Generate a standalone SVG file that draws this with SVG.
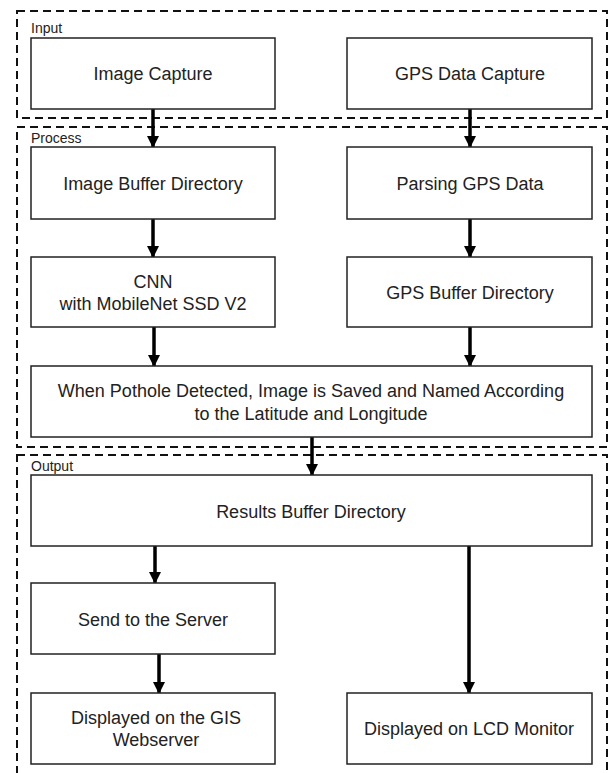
<svg xmlns="http://www.w3.org/2000/svg" width="610" height="773" viewBox="0 0 610 773">
<style>
.grp{fill:none;stroke:#111;stroke-width:2;stroke-dasharray:8,5}
.box{fill:#fff;stroke:#222;stroke-width:1.5}
.t{font-family:"Liberation Sans",Arial,sans-serif;font-size:18px;fill:#222;text-anchor:middle}
.lbl{font-family:"Liberation Sans",Arial,sans-serif;font-size:14px;fill:#222}
.arr{stroke:#000;stroke-width:3.5;fill:none;marker-end:url(#ah)}
</style>
<defs>
<marker id="ah" markerUnits="userSpaceOnUse" markerWidth="12" markerHeight="12" refX="11" refY="6" orient="auto">
<path d="M0,0 L12,6 L0,12 z" fill="#000"/>
</marker>
</defs>
<rect width="610" height="773" fill="#fff"/>
<g id="groups">
<rect class="grp" x="17" y="11" width="590" height="107"/>
<text class="lbl" x="31" y="33">Input</text>
<rect class="grp" x="17" y="127" width="590" height="320"/>
<text class="lbl" x="31" y="143">Process</text>
<rect class="grp" x="17" y="455" width="590" height="330"/>
<text class="lbl" x="31" y="471">Output</text>
</g>
<g id="connectors">
<line class="arr" x1="153" y1="109" x2="153" y2="147"/>
<line class="arr" x1="470" y1="109" x2="470" y2="147"/>
<line class="arr" x1="153" y1="219" x2="153" y2="257"/>
<line class="arr" x1="470" y1="219" x2="470" y2="257"/>
<line class="arr" x1="154" y1="327" x2="154" y2="366"/>
<line class="arr" x1="470" y1="327" x2="470" y2="366"/>
<line class="arr" x1="312" y1="437" x2="312" y2="475"/>
<line class="arr" x1="155" y1="546" x2="155" y2="583"/>
<line class="arr" x1="159" y1="654" x2="159" y2="693"/>
<line class="arr" x1="469" y1="546" x2="469" y2="693"/>
</g>
<g id="image-capture"><rect class="box" x="31" y="38" width="244" height="71"/><text class="t" x="153" y="80">Image Capture</text></g>
<g id="gps-data-capture"><rect class="box" x="347" y="38" width="245" height="71"/><text class="t" x="470" y="80">GPS Data Capture</text></g>
<g id="image-buffer"><rect class="box" x="31" y="147" width="244" height="72"/><text class="t" x="153" y="190">Image Buffer Directory</text></g>
<g id="parsing-gps"><rect class="box" x="347" y="147" width="245" height="72"/><text class="t" x="470" y="190">Parsing GPS Data</text></g>
<g id="cnn"><rect class="box" x="31" y="257" width="244" height="70"/><text class="t" x="153" y="288">CNN</text><text class="t" x="153" y="310">with MobileNet SSD V2</text></g>
<g id="gps-buffer"><rect class="box" x="347" y="257" width="245" height="70"/><text class="t" x="470" y="299">GPS Buffer Directory</text></g>
<g id="pothole-detected"><rect class="box" x="31" y="366" width="561" height="71"/><text class="t" x="311" y="397">When Pothole Detected, Image is Saved and Named According</text><text class="t" x="311" y="420">to the Latitude and Longitude</text></g>
<g id="results-buffer"><rect class="box" x="31" y="475" width="561" height="71"/><text class="t" x="311" y="518">Results Buffer Directory</text></g>
<g id="send-server"><rect class="box" x="31" y="583" width="244" height="71"/><text class="t" x="153" y="626">Send to the Server</text></g>
<g id="gis-webserver"><rect class="box" x="31" y="693" width="244" height="71"/><text class="t" x="156" y="724">Displayed on the GIS</text><text class="t" x="156" y="746">Webserver</text></g>
<g id="lcd-monitor"><rect class="box" x="347" y="693" width="245" height="71"/><text class="t" x="469" y="735">Displayed on LCD Monitor</text></g>
</svg>
